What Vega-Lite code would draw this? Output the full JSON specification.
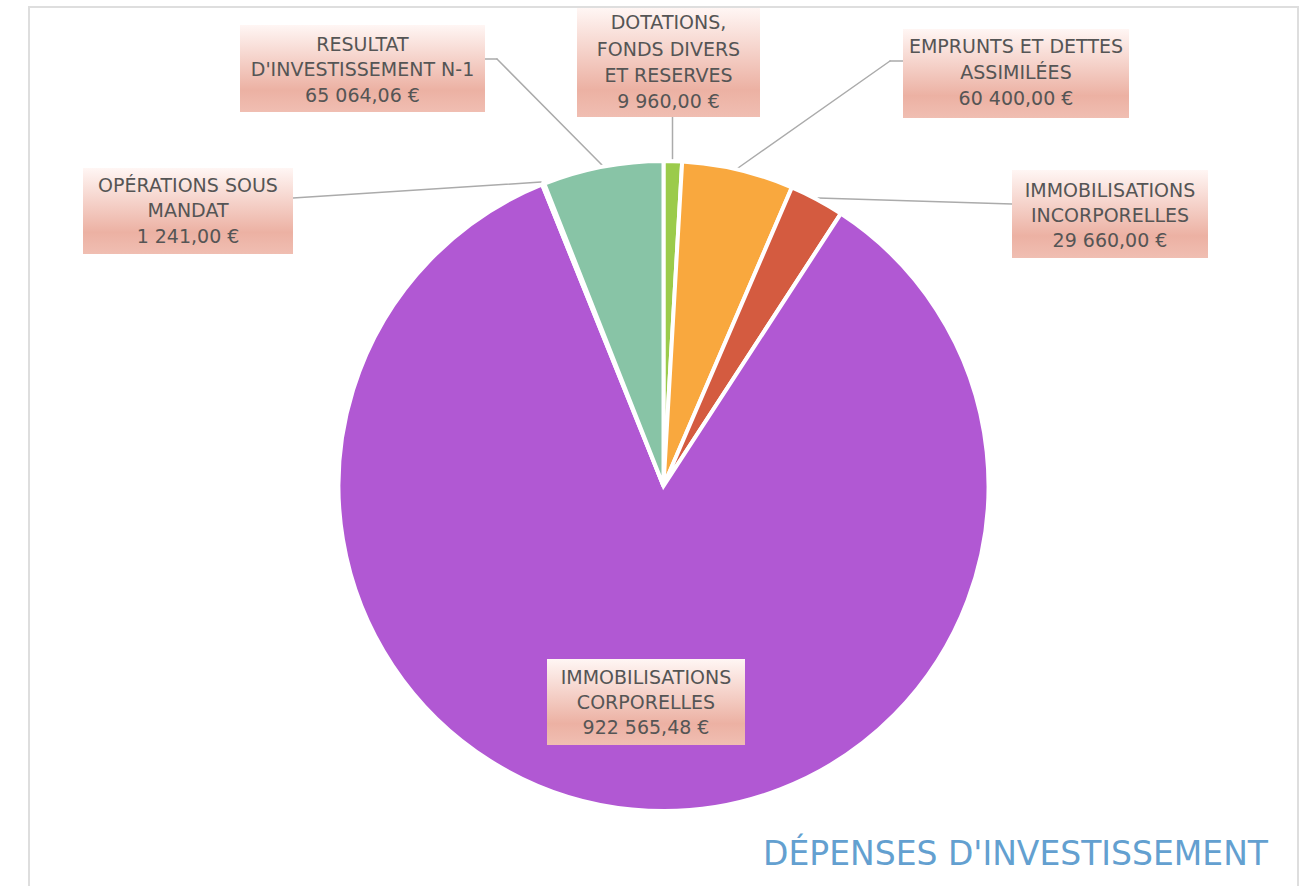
{
  "$schema": "https://vega.github.io/schema/vega-lite/v6.json",
  "width": 1269,
  "height": 958,
  "autosize": {"type": "none"},
  "padding": {"left": 29, "top": 7, "right": 12, "bottom": -79},
  "background": "white",
  "title": {"text": "DÉPENSES D'INVESTISSEMENT", "orient": "bottom", "anchor": "end", "frame": "group", "offset": -100, "dx": -30, "baseline": "alphabetic", "font": "DejaVu Sans", "fontSize": 33, "fontWeight": "normal", "color": "#63A0D0"},
  "config": {
    "view": {"stroke": "#DEDEDE", "strokeWidth": 2},
    "axis": {"disable": true},
    "locale": {"number": {"decimal": ",", "thousands": " ", "grouping": [3], "currency": ["", " €"]}},
    "text": {"font": "DejaVu Sans", "fontSize": 19, "color": "#555555"}
  },
  "data": {"values": [
    {"category": "DOTATIONS, FONDS DIVERS ET RESERVES", "lines": ["DOTATIONS,", "FONDS DIVERS", "ET RESERVES"], "value": 9960, "order": 1},
    {"category": "EMPRUNTS ET DETTES ASSIMILÉES", "lines": ["EMPRUNTS ET DETTES", "ASSIMILÉES"], "value": 60400, "order": 2},
    {"category": "IMMOBILISATIONS INCORPORELLES", "lines": ["IMMOBILISATIONS", "INCORPORELLES"], "value": 29660, "order": 3},
    {"category": "IMMOBILISATIONS CORPORELLES", "lines": ["IMMOBILISATIONS", "CORPORELLES"], "value": 922565.48, "order": 4},
    {"category": "OPÉRATIONS SOUS MANDAT", "lines": ["OPÉRATIONS SOUS", "MANDAT"], "value": 1241, "order": 5},
    {"category": "RESULTAT D'INVESTISSEMENT N-1", "lines": ["RESULTAT", "D'INVESTISSEMENT N-1"], "value": 65064.06, "order": 6}
  ]},
  "layer": [
    {"transform": [{"filter": "datum.order == 1"}],
     "mark": {"type": "rule", "color": "#ABABAB", "strokeWidth": 1.5, "strokeCap": "round"},
     "encoding": {
       "x": {"datum": 672.5, "scale": {"domain": [29, 1298], "nice": false, "zero": false}, "axis": null},
       "x2": {"datum": 672.5},
       "y": {"datum": 117, "scale": {"domain": [7, 965], "nice": false, "zero": false, "reverse": true}, "axis": null},
       "y2": {"datum": 159}}},
    {"transform": [{"filter": "datum.order == 2"}],
     "layer": [
       {"mark": {"type": "rule", "color": "#ABABAB", "strokeWidth": 1.5, "strokeCap": "round"},
        "encoding": {
          "x": {"datum": 903, "scale": {"domain": [29, 1298], "nice": false, "zero": false}, "axis": null},
          "x2": {"datum": 890},
          "y": {"datum": 61, "scale": {"domain": [7, 965], "nice": false, "zero": false, "reverse": true}, "axis": null},
          "y2": {"datum": 61}}},
       {"mark": {"type": "rule", "color": "#ABABAB", "strokeWidth": 1.5, "strokeCap": "round"},
        "encoding": {
          "x": {"datum": 890, "scale": {"domain": [29, 1298], "nice": false, "zero": false}, "axis": null},
          "x2": {"datum": 738},
          "y": {"datum": 61, "scale": {"domain": [7, 965], "nice": false, "zero": false, "reverse": true}, "axis": null},
          "y2": {"datum": 168}}}
     ]},
    {"transform": [{"filter": "datum.order == 3"}],
     "mark": {"type": "rule", "color": "#ABABAB", "strokeWidth": 1.5, "strokeCap": "round"},
     "encoding": {
       "x": {"datum": 1012, "scale": {"domain": [29, 1298], "nice": false, "zero": false}, "axis": null},
       "x2": {"datum": 818},
       "y": {"datum": 204, "scale": {"domain": [7, 965], "nice": false, "zero": false, "reverse": true}, "axis": null},
       "y2": {"datum": 198}}},
    {"transform": [{"filter": "datum.order == 5"}],
     "mark": {"type": "rule", "color": "#ABABAB", "strokeWidth": 1.5, "strokeCap": "round"},
     "encoding": {
       "x": {"datum": 293, "scale": {"domain": [29, 1298], "nice": false, "zero": false}, "axis": null},
       "x2": {"datum": 541},
       "y": {"datum": 198, "scale": {"domain": [7, 965], "nice": false, "zero": false, "reverse": true}, "axis": null},
       "y2": {"datum": 182}}},
    {"transform": [{"filter": "datum.order == 6"}],
     "layer": [
       {"mark": {"type": "rule", "color": "#ABABAB", "strokeWidth": 1.5, "strokeCap": "round"},
        "encoding": {
          "x": {"datum": 485, "scale": {"domain": [29, 1298], "nice": false, "zero": false}, "axis": null},
          "x2": {"datum": 497},
          "y": {"datum": 59, "scale": {"domain": [7, 965], "nice": false, "zero": false, "reverse": true}, "axis": null},
          "y2": {"datum": 59}}},
       {"mark": {"type": "rule", "color": "#ABABAB", "strokeWidth": 1.5, "strokeCap": "round"},
        "encoding": {
          "x": {"datum": 497, "scale": {"domain": [29, 1298], "nice": false, "zero": false}, "axis": null},
          "x2": {"datum": 602},
          "y": {"datum": 59, "scale": {"domain": [7, 965], "nice": false, "zero": false, "reverse": true}, "axis": null},
          "y2": {"datum": 165}}}
     ]},
    {"mark": {"type": "arc", "radius": 325, "stroke": "white", "strokeWidth": 4},
     "encoding": {
       "theta": {"field": "value", "type": "quantitative", "stack": true},
       "order": {"field": "order", "type": "quantitative", "sort": "ascending"},
       "color": {"field": "category", "type": "nominal", "legend": null,
         "scale": {"domain": ["DOTATIONS, FONDS DIVERS ET RESERVES", "EMPRUNTS ET DETTES ASSIMILÉES", "IMMOBILISATIONS INCORPORELLES", "IMMOBILISATIONS CORPORELLES", "OPÉRATIONS SOUS MANDAT", "RESULTAT D'INVESTISSEMENT N-1"],
                   "range": ["#9BCB4B", "#F9A83E", "#D45B40", "#B158D3", "#5FA3D8", "#88C4A6"]}}}},
    {"transform": [{"filter": "datum.order == 1"}],
     "layer": [
       {"mark": {"type": "rect", "fill": {"gradient": "linear", "x1": 0, "y1": 0, "x2": 0, "y2": 1, "stops": [{"offset": 0, "color": "#FFF6F4"}, {"offset": 0.75, "color": "#ECB1A3"}, {"offset": 1, "color": "#F0BEB2"}]}},
        "encoding": {"x": {"datum": 577, "scale": {"domain": [29, 1298], "nice": false, "zero": false}, "axis": null}, "x2": {"datum": 760},
                     "y": {"datum": 8, "scale": {"domain": [7, 965], "nice": false, "zero": false, "reverse": true}, "axis": null}, "y2": {"datum": 117}}},
       {"mark": {"type": "text", "align": "center", "baseline": "alphabetic", "lineHeight": 26.5},
        "encoding": {"x": {"datum": 668.5, "scale": {"domain": [29, 1298], "nice": false, "zero": false}, "axis": null},
                     "y": {"datum": 29, "scale": {"domain": [7, 965], "nice": false, "zero": false, "reverse": true}, "axis": null},
                     "text": {"field": "lines"}}},
       {"mark": {"type": "text", "align": "center", "baseline": "alphabetic"},
        "encoding": {"x": {"datum": 668.5, "scale": {"domain": [29, 1298], "nice": false, "zero": false}, "axis": null},
                     "y": {"datum": 108, "scale": {"domain": [7, 965], "nice": false, "zero": false, "reverse": true}, "axis": null},
                     "text": {"field": "value", "type": "quantitative", "format": "$,.2f"}}}
     ]},
    {"transform": [{"filter": "datum.order == 2"}],
     "layer": [
       {"mark": {"type": "rect", "fill": {"gradient": "linear", "x1": 0, "y1": 0, "x2": 0, "y2": 1, "stops": [{"offset": 0, "color": "#FFF6F4"}, {"offset": 0.75, "color": "#ECB1A3"}, {"offset": 1, "color": "#F0BEB2"}]}},
        "encoding": {"x": {"datum": 903, "scale": {"domain": [29, 1298], "nice": false, "zero": false}, "axis": null}, "x2": {"datum": 1129},
                     "y": {"datum": 29, "scale": {"domain": [7, 965], "nice": false, "zero": false, "reverse": true}, "axis": null}, "y2": {"datum": 118}}},
       {"mark": {"type": "text", "align": "center", "baseline": "alphabetic", "lineHeight": 25.5},
        "encoding": {"x": {"datum": 1016, "scale": {"domain": [29, 1298], "nice": false, "zero": false}, "axis": null},
                     "y": {"datum": 53, "scale": {"domain": [7, 965], "nice": false, "zero": false, "reverse": true}, "axis": null},
                     "text": {"field": "lines"}}},
       {"mark": {"type": "text", "align": "center", "baseline": "alphabetic"},
        "encoding": {"x": {"datum": 1016, "scale": {"domain": [29, 1298], "nice": false, "zero": false}, "axis": null},
                     "y": {"datum": 105, "scale": {"domain": [7, 965], "nice": false, "zero": false, "reverse": true}, "axis": null},
                     "text": {"field": "value", "type": "quantitative", "format": "$,.2f"}}}
     ]},
    {"transform": [{"filter": "datum.order == 3"}],
     "layer": [
       {"mark": {"type": "rect", "fill": {"gradient": "linear", "x1": 0, "y1": 0, "x2": 0, "y2": 1, "stops": [{"offset": 0, "color": "#FFF6F4"}, {"offset": 0.75, "color": "#ECB1A3"}, {"offset": 1, "color": "#F0BEB2"}]}},
        "encoding": {"x": {"datum": 1012, "scale": {"domain": [29, 1298], "nice": false, "zero": false}, "axis": null}, "x2": {"datum": 1208},
                     "y": {"datum": 170, "scale": {"domain": [7, 965], "nice": false, "zero": false, "reverse": true}, "axis": null}, "y2": {"datum": 258}}},
       {"mark": {"type": "text", "align": "center", "baseline": "alphabetic", "lineHeight": 25},
        "encoding": {"x": {"datum": 1110, "scale": {"domain": [29, 1298], "nice": false, "zero": false}, "axis": null},
                     "y": {"datum": 197, "scale": {"domain": [7, 965], "nice": false, "zero": false, "reverse": true}, "axis": null},
                     "text": {"field": "lines"}}},
       {"mark": {"type": "text", "align": "center", "baseline": "alphabetic"},
        "encoding": {"x": {"datum": 1110, "scale": {"domain": [29, 1298], "nice": false, "zero": false}, "axis": null},
                     "y": {"datum": 247, "scale": {"domain": [7, 965], "nice": false, "zero": false, "reverse": true}, "axis": null},
                     "text": {"field": "value", "type": "quantitative", "format": "$,.2f"}}}
     ]},
    {"transform": [{"filter": "datum.order == 4"}],
     "layer": [
       {"mark": {"type": "rect", "fill": {"gradient": "linear", "x1": 0, "y1": 0, "x2": 0, "y2": 1, "stops": [{"offset": 0, "color": "#FFF6F4"}, {"offset": 0.75, "color": "#ECB1A3"}, {"offset": 1, "color": "#F0BEB2"}]}},
        "encoding": {"x": {"datum": 547, "scale": {"domain": [29, 1298], "nice": false, "zero": false}, "axis": null}, "x2": {"datum": 745},
                     "y": {"datum": 659, "scale": {"domain": [7, 965], "nice": false, "zero": false, "reverse": true}, "axis": null}, "y2": {"datum": 745}}},
       {"mark": {"type": "text", "align": "center", "baseline": "alphabetic", "lineHeight": 25},
        "encoding": {"x": {"datum": 646, "scale": {"domain": [29, 1298], "nice": false, "zero": false}, "axis": null},
                     "y": {"datum": 683.5, "scale": {"domain": [7, 965], "nice": false, "zero": false, "reverse": true}, "axis": null},
                     "text": {"field": "lines"}}},
       {"mark": {"type": "text", "align": "center", "baseline": "alphabetic"},
        "encoding": {"x": {"datum": 646, "scale": {"domain": [29, 1298], "nice": false, "zero": false}, "axis": null},
                     "y": {"datum": 734, "scale": {"domain": [7, 965], "nice": false, "zero": false, "reverse": true}, "axis": null},
                     "text": {"field": "value", "type": "quantitative", "format": "$,.2f"}}}
     ]},
    {"transform": [{"filter": "datum.order == 5"}],
     "layer": [
       {"mark": {"type": "rect", "fill": {"gradient": "linear", "x1": 0, "y1": 0, "x2": 0, "y2": 1, "stops": [{"offset": 0, "color": "#FFF6F4"}, {"offset": 0.75, "color": "#ECB1A3"}, {"offset": 1, "color": "#F0BEB2"}]}},
        "encoding": {"x": {"datum": 83, "scale": {"domain": [29, 1298], "nice": false, "zero": false}, "axis": null}, "x2": {"datum": 293},
                     "y": {"datum": 168, "scale": {"domain": [7, 965], "nice": false, "zero": false, "reverse": true}, "axis": null}, "y2": {"datum": 254}}},
       {"mark": {"type": "text", "align": "center", "baseline": "alphabetic", "lineHeight": 25},
        "encoding": {"x": {"datum": 188, "scale": {"domain": [29, 1298], "nice": false, "zero": false}, "axis": null},
                     "y": {"datum": 192, "scale": {"domain": [7, 965], "nice": false, "zero": false, "reverse": true}, "axis": null},
                     "text": {"field": "lines"}}},
       {"mark": {"type": "text", "align": "center", "baseline": "alphabetic"},
        "encoding": {"x": {"datum": 188, "scale": {"domain": [29, 1298], "nice": false, "zero": false}, "axis": null},
                     "y": {"datum": 243, "scale": {"domain": [7, 965], "nice": false, "zero": false, "reverse": true}, "axis": null},
                     "text": {"field": "value", "type": "quantitative", "format": "$,.2f"}}}
     ]},
    {"transform": [{"filter": "datum.order == 6"}],
     "layer": [
       {"mark": {"type": "rect", "fill": {"gradient": "linear", "x1": 0, "y1": 0, "x2": 0, "y2": 1, "stops": [{"offset": 0, "color": "#FFF6F4"}, {"offset": 0.75, "color": "#ECB1A3"}, {"offset": 1, "color": "#F0BEB2"}]}},
        "encoding": {"x": {"datum": 240, "scale": {"domain": [29, 1298], "nice": false, "zero": false}, "axis": null}, "x2": {"datum": 485},
                     "y": {"datum": 25, "scale": {"domain": [7, 965], "nice": false, "zero": false, "reverse": true}, "axis": null}, "y2": {"datum": 112}}},
       {"mark": {"type": "text", "align": "center", "baseline": "alphabetic", "lineHeight": 25},
        "encoding": {"x": {"datum": 362.5, "scale": {"domain": [29, 1298], "nice": false, "zero": false}, "axis": null},
                     "y": {"datum": 51, "scale": {"domain": [7, 965], "nice": false, "zero": false, "reverse": true}, "axis": null},
                     "text": {"field": "lines"}}},
       {"mark": {"type": "text", "align": "center", "baseline": "alphabetic"},
        "encoding": {"x": {"datum": 362.5, "scale": {"domain": [29, 1298], "nice": false, "zero": false}, "axis": null},
                     "y": {"datum": 101.5, "scale": {"domain": [7, 965], "nice": false, "zero": false, "reverse": true}, "axis": null},
                     "text": {"field": "value", "type": "quantitative", "format": "$,.2f"}}}
     ]}
  ]
}
